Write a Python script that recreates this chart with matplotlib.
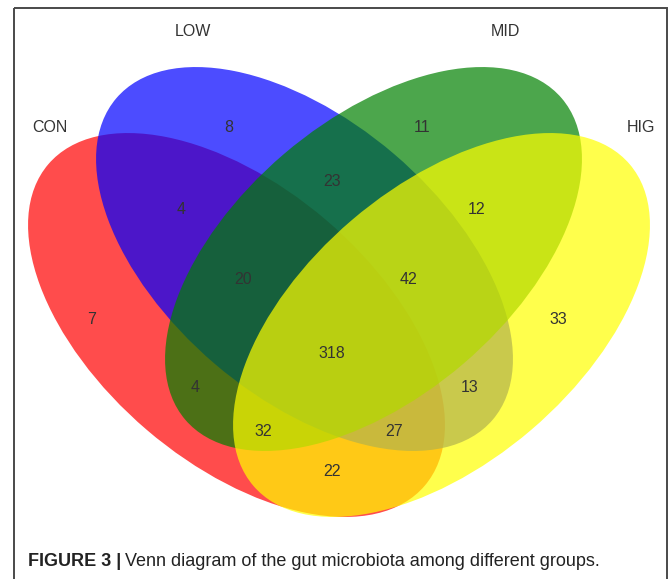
import matplotlib
matplotlib.use("Agg")
import matplotlib.pyplot as plt
from matplotlib.patches import Ellipse, Rectangle

plt.rcParams['font.family'] = ['Liberation Sans', 'DejaVu Sans']

# groups and their fill colours
groups = ["CON", "LOW", "MID", "HIG"]
colors = ["#ff0000", "#0000ff", "#008000", "#ffff00"]

# counts per region (which groups share it)
regions = ["CON", "LOW", "MID", "HIG",
           "CON&LOW", "LOW&MID", "MID&HIG", "CON&HIG", "CON&MID", "LOW&HIG",
           "CON&LOW&MID", "LOW&MID&HIG", "CON&MID&HIG", "CON&LOW&HIG",
           "CON&LOW&MID&HIG"]
counts = [7, 8, 11, 33,
          4, 23, 12, 22, 4, 13,
          20, 42, 32, 27,
          318]

# layout in pixel units (y grows downward)
W, H = 669, 579
ell_a, ell_b, ell_ang = 247.5, 138, 40.5
ell_centers = [(236.5, 325), (304.5, 259), (373.5, 259), (441.5, 325)]
ell_angles = [ell_ang, ell_ang, -ell_ang, -ell_ang]
group_label_pos = [(50, 128), (193, 31), (505, 31), (641, 128)]
region_pos = {
    "CON": (92, 320), "LOW": (229, 127), "MID": (422, 127), "HIG": (558, 320),
    "CON&LOW": (181, 210), "LOW&MID": (332, 182), "MID&HIG": (477, 210),
    "CON&HIG": (332, 471), "CON&MID": (195, 388), "LOW&HIG": (470, 388),
    "CON&LOW&MID": (243, 279), "LOW&MID&HIG": (408, 279),
    "CON&MID&HIG": (263, 431), "CON&LOW&HIG": (394, 431),
    "CON&LOW&MID&HIG": (332, 354),
}

fig = plt.figure(figsize=(W / 100, H / 100), dpi=100)
ax = fig.add_axes([0, 0, 1, 1])
ax.set_xlim(0, W)
ax.set_ylim(H, 0)
ax.axis("off")

# frame
ax.add_patch(Rectangle((14, 8), 653, 600, fill=False, edgecolor="#4a4a4a",
                       linewidth=1.4, zorder=5))

for (cx, cy), ang, col in zip(ell_centers, ell_angles, colors):
    ax.add_patch(Ellipse((cx, cy), 2 * ell_a, 2 * ell_b, angle=ang,
                         facecolor=col, edgecolor="none", alpha=0.7))

for name, (x, y) in zip(groups, group_label_pos):
    ax.text(x, y, name, ha="center", va="center", fontsize=11.5, color="#333333")

for reg, n in zip(regions, counts):
    x, y = region_pos[reg]
    ax.text(x, y, str(n), ha="center", va="center", fontsize=11.5, color="#333333")

# caption
t1 = ax.text(28, 566, "FIGURE 3 |", fontsize=13, fontweight="bold",
             color="#222222", va="baseline")
fig.canvas.draw()
bb = t1.get_window_extent(fig.canvas.get_renderer())
x_end = ax.transData.inverted().transform((bb.x1, bb.y0))[0]
ax.text(x_end + 4, 566, "Venn diagram of the gut microbiota among different groups.",
        fontsize=13, color="#222222", va="baseline")

fig.savefig("out.png", dpi=100)
